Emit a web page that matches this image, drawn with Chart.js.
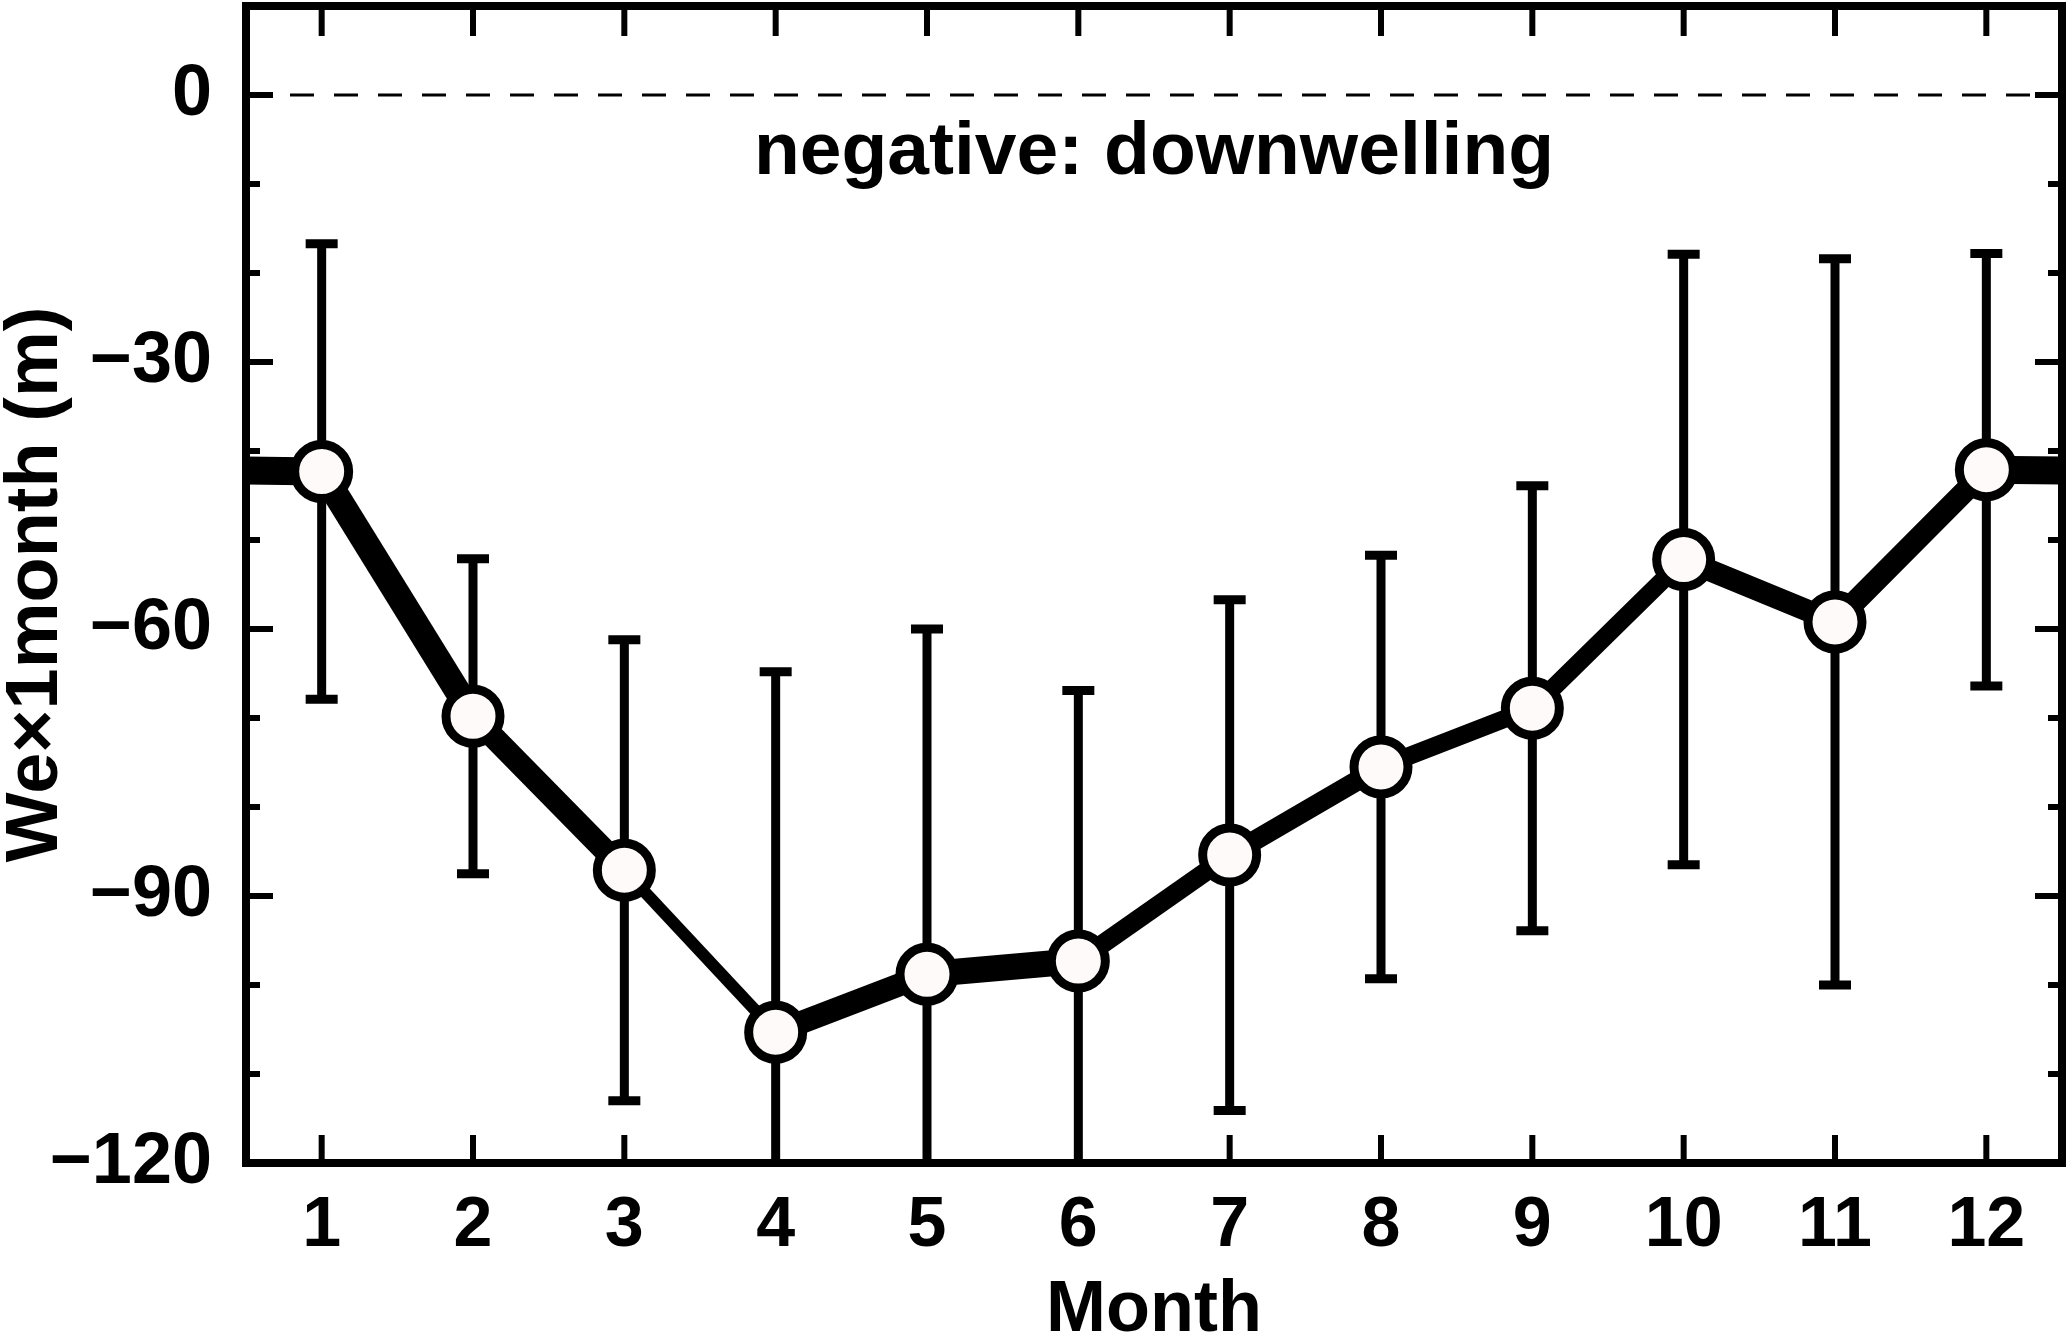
<!DOCTYPE html>
<html>
<head>
<meta charset="utf-8">
<script src="https://cdn.jsdelivr.net/npm/chart.js@4.4.0/dist/chart.umd.min.js"></script>
<style>
  html, body { margin: 0; padding: 0; background: #fff; }
  #wrap { width: 2067px; height: 1338px; position: relative; }
</style>
</head>
<body>
<div id="wrap"><canvas id="grafico"></canvas></div>
<script>
// datos
const months = [1, 2, 3, 4, 5, 6, 7, 8, 9, 10, 11, 12];
const weMonth = [-42.3, -69.8, -87.1, -105.3, -98.8, -97.3, -85.4, -75.5, -68.9, -52.2, -59.2, -42.1];
const weError = [25.6, 17.7, 25.9, 40.5, 38.8, 30.4, 28.7, 23.8, 25.0, 34.3, 40.8, 24.3];
const yLabelTicks = [0, -30, -60, -90, -120];
const noteText = "negative: downwelling";
const noteValue = -8.9;

// grosor de cada tramo de la linea (borde izq, 1-2, ..., 12-borde der)
const segmentWidths = [28, 26, 23, 12, 23, 26, 19, 20, 18, 18, 22, 22, 28];

const FONT = '"Liberation Sans", Arial, Helvetica, sans-serif';

// serie ciclica: diciembre antes de enero y enero despues de diciembre
const lineData = [{ x: months[0] - 1, y: weMonth[weMonth.length - 1] }]
  .concat(months.map((m, i) => ({ x: m, y: weMonth[i] })))
  .concat([{ x: months[months.length - 1] + 1, y: weMonth[0] }]);

const fmt = v => String(v).replace("-", "\u2212");

const barrasError = {
  id: "barrasError",
  beforeDatasetsDraw(chart) {
    const { ctx, chartArea: a, scales: { x, y } } = chart;
    ctx.save();
    ctx.beginPath();
    ctx.rect(a.left, a.top, a.width, a.height);
    ctx.clip();

    // linea de cero
    ctx.strokeStyle = "#000";
    ctx.lineWidth = 3;
    ctx.setLineDash([24, 20]);
    const y0 = y.getPixelForValue(0);
    ctx.beginPath();
    ctx.moveTo(a.left, y0);
    ctx.lineTo(a.right, y0);
    ctx.stroke();
    ctx.setLineDash([]);

    ctx.lineWidth = 9;
    ctx.lineCap = "butt";
    months.forEach((m, i) => {
      const px = x.getPixelForValue(m);
      const top = y.getPixelForValue(weMonth[i] + weError[i]);
      const bot = y.getPixelForValue(weMonth[i] - weError[i]);
      ctx.beginPath();
      ctx.moveTo(px, top);
      ctx.lineTo(px, bot);
      ctx.moveTo(px - 16, top);
      ctx.lineTo(px + 16, top);
      ctx.moveTo(px - 16, bot);
      ctx.lineTo(px + 16, bot);
      ctx.stroke();
    });
    ctx.restore();
  }
};

const marcoEjes = {
  id: "marcoEjes",
  afterDatasetsDraw(chart) {
    const { ctx, chartArea: a, scales: { x, y } } = chart;
    ctx.save();
    ctx.strokeStyle = "#000";
    ctx.lineWidth = 6;
    ctx.beginPath();
    y.ticks.forEach(t => {
      const py = y.getPixelForValue(t.value);
      const len = yLabelTicks.includes(t.value) ? 27 : 14;
      ctx.moveTo(a.left, py); ctx.lineTo(a.left + len, py);
      ctx.moveTo(a.right, py); ctx.lineTo(a.right - len, py);
    });
    x.ticks.forEach(t => {
      const px = x.getPixelForValue(t.value);
      ctx.moveTo(px, a.bottom); ctx.lineTo(px, a.bottom - 28);
      ctx.moveTo(px, a.top); ctx.lineTo(px, a.top + 30);
    });
    ctx.stroke();

    ctx.lineWidth = 8;
    ctx.strokeRect(a.left, a.top, a.width, a.height);

    ctx.fillStyle = "#000";
    ctx.font = "bold 75px " + FONT;
    ctx.textAlign = "center";
    ctx.textBaseline = "alphabetic";
    ctx.fillText(noteText, (a.left + a.right) / 2, y.getPixelForValue(noteValue));
    ctx.restore();
  }
};

new Chart(document.getElementById("grafico"), {
  type: "line",
  data: {
    datasets: [{
      data: lineData,
      borderColor: "#000",
      borderWidth: 22,
      borderCapStyle: "butt",
      borderJoinStyle: "round",
      clip: 0,
      segment: {
        borderWidth: ctx => segmentWidths[ctx.p0DataIndex]
      },
      pointRadius: ctx => (ctx.dataIndex === 0 || ctx.dataIndex === lineData.length - 1) ? 0 : 27,
      pointBorderWidth: 9,
      pointBorderColor: "#000",
      pointBackgroundColor: "#fffafa",
      pointHoverRadius: 27,
      tension: 0
    }]
  },
  options: {
    responsive: true,
    maintainAspectRatio: false,
    animation: false,
    layout: { padding: { top: 6, right: 5, bottom: 0, left: 0 } },
    plugins: {
      legend: { display: false },
      tooltip: { enabled: false }
    },
    scales: {
      x: {
        type: "linear",
        min: 0.5,
        max: 12.5,
        grid: { display: false, drawTicks: false },
        border: { display: false },
        afterBuildTicks: s => { s.ticks = months.map(v => ({ value: v })); },
        afterFit: s => { s.height = 175; s.paddingLeft = 0; s.paddingRight = 0; },
        ticks: {
          autoSkip: false,
          maxRotation: 0,
          color: "#000",
          padding: 22,
          font: { family: FONT, size: 70, weight: "bold" },
          callback: v => String(v)
        },
        title: {
          display: true,
          text: "Month",
          color: "#000",
          padding: { top: 0, bottom: 0 },
          font: { family: FONT, size: 72, weight: "bold", lineHeight: 0.75 }
        }
      },
      y: {
        min: -120,
        max: 10,
        grid: { display: false, drawTicks: false },
        border: { display: false },
        afterFit: s => { s.width = 246; s.paddingTop = 0; s.paddingBottom = 0; },
        ticks: {
          stepSize: 10,
          autoSkip: false,
          color: "#000",
          padding: 34,
          font: { family: FONT, size: 72, weight: "bold" },
          callback: v => yLabelTicks.includes(v) ? fmt(v) : ""
        },
        title: {
          display: true,
          text: "We\u00d71month (m)",
          color: "#000",
          padding: { top: 0, bottom: 0 },
          font: { family: FONT, size: 74, weight: "bold", lineHeight: 1.0 }
        }
      }
    }
  },
  plugins: [barrasError, marcoEjes]
});
</script>
</body>
</html>
